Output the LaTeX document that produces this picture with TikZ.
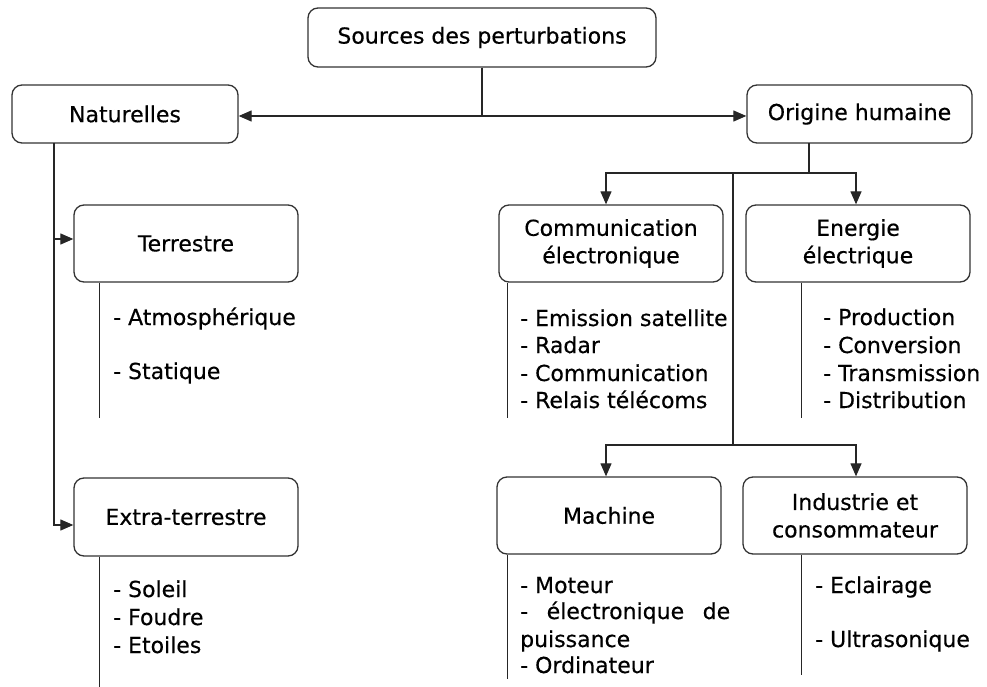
\documentclass[tikz,border=0pt]{standalone}
\usepackage{fontspec}
\setmainfont[FakeBold=0.4]{DejaVu Sans}
\usetikzlibrary{arrows.meta}
\begin{document}
\begin{tikzpicture}[x=1pt,y=-1pt,
  box/.style={draw=black!80, line width=1.3pt, rounded corners=10pt, align=center, inner sep=0pt,
    font=\fontsize{22}{27.5}\selectfont, text=black},
  item/.style={anchor=base west, inner sep=0pt, font=\fontsize{22}{27.5}\selectfont, text=black},
  conn/.style={line width=1.2pt, draw=black!85},
  arr/.style={conn, -{Triangle[length=13pt,width=11pt]}}]
\useasboundingbox (0,0) rectangle (987,687);

% boxes
\node[box, minimum width=348pt, minimum height=59pt] (src) at (482,37.5) {Sources des perturbations};
\node[box, minimum width=226pt, minimum height=58pt] (nat) at (125,114) {Naturelles};
\node[box, minimum width=225pt, minimum height=58pt] (ori) at (859.5,114) {Origine humaine};
\node[box, minimum width=224pt, minimum height=77pt] (ter) at (186,243.5) {Terrestre};
\node[box, minimum width=224pt, minimum height=78pt] (ext) at (186,517) {Extra-terrestre};
\node[box, minimum width=224pt, minimum height=77pt] (com) at (611,243.5) {Communication\\électronique};
\node[box, minimum width=224pt, minimum height=77pt] (ene) at (858,243.5) {Energie\\électrique};
\node[box, minimum width=224pt, minimum height=77pt] (mac) at (609,515.5) {Machine};
\node[box, minimum width=224pt, minimum height=77pt] (ind) at (855,515.5) {Industrie et\\consommateur};

% connectors
\draw[arr] (src.south) |- ([yshift=-2pt]nat.east);
\draw[arr] (src.south) |- ([yshift=-2pt]ori.west);

\coordinate (nv) at (54,143);
\draw[arr] (nv) |- ([yshift=4.5pt]ter.west);
\draw[arr] (nv) |- ([yshift=-8pt]ext.west);

\coordinate (ov) at (809,143);
\coordinate (oj) at (809,173);
\coordinate (cj) at (733,173);
\coordinate (mj) at (733,445);
\draw[conn] (ov) -- (oj);
\draw[arr] (oj) -| ([xshift=-5pt]com.north);
\draw[arr] (oj) -| ([xshift=-2pt]ene.north);
\draw[conn] (cj) -- (mj);
\draw[arr] (mj) -| ([xshift=-3pt]mac.north);
\draw[arr] (mj) -| ([xshift=1pt]ind.north);

% side lines
\draw[conn] ([xshift=26pt]ter.south west) -- ++(0,135);
\draw[conn] ([xshift=26pt]ext.south west) -- ++(0,131);
\draw[conn] ([xshift=9pt]com.south west) -- ++(0,135);
\draw[conn] ([xshift=56pt]ene.south west) -- ++(0,135);
\draw[conn] ([xshift=11pt]mac.south west) -- ++(0,124);
\draw[conn] ([xshift=59pt]ind.south west) -- ++(0,120);

% items
\node[item] (t1) at (113,325) {- Atmosphérique};
\node[item] (t2) at (113,379) {- Statique};
\node[item] (e1) at (113,597) {- Soleil};
\node[item] (e2) at (113,625) {- Foudre};
\node[item] (e3) at (113,653) {- Etoiles};
\node[item] (c1) at (520,326) {- Emission satellite};
\node[item] (c2) at (520,353) {- Radar};
\node[item] (c3) at (520,381) {- Communication};
\node[item] (c4) at (520,408) {- Relais télécoms};
\node[item] (n1) at (823,325) {- Production};
\node[item] (n2) at (823,353) {- Conversion};
\node[item] (n3) at (823,381) {- Transmission};
\node[item] (n4) at (823,408) {- Distribution};
\node[item] (m1) at (520,593) {- Moteur};
\node[item] (m2) at (520,619) {\makebox[210pt][s]{- électronique de}};
\node[item] (m3) at (520,647) {puissance};
\node[item] (m4) at (520,673) {- Ordinateur};
\node[item] (i1) at (815,593) {- Eclairage};
\node[item] (i2) at (815,647) {- Ultrasonique};
\end{tikzpicture}
\end{document}
